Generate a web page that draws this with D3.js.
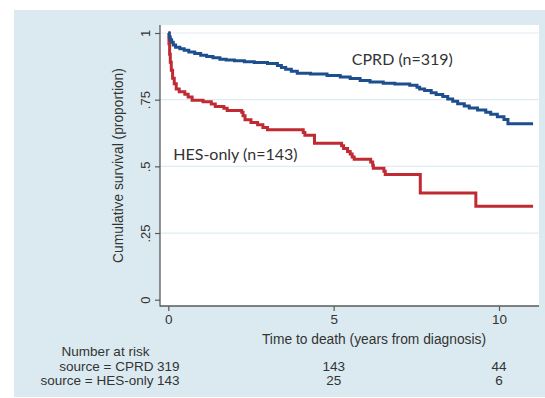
<!DOCTYPE html>
<html>
<head>
<meta charset="utf-8">
<script src="https://cdn.jsdelivr.net/npm/d3@7"></script>
<style>
  html, body { margin: 0; padding: 0; background: #ffffff; }
  svg { display: block; }
</style>
</head>
<body>
<svg id="chart" width="545" height="398"></svg>
<script>
// ---------- data ----------
const cprdTime = [0, 0.03, 0.06, 0.10, 0.15, 0.22, 0.35, 0.48, 0.62, 0.80, 0.98, 1.16, 1.35, 1.56, 1.75, 2.00, 2.30, 2.60, 3.00, 3.30, 3.42, 3.55, 3.72, 3.90, 4.30, 4.80, 5.20, 5.50, 5.80, 6.10, 6.50, 6.85, 7.30, 7.52, 7.60, 7.75, 7.95, 8.10, 8.30, 8.45, 8.60, 8.75, 8.95, 9.10, 9.35, 9.60, 9.75, 9.95, 10.15, 10.27, 11.03];
const cprdSurv = [1, 0.985, 0.975, 0.965, 0.955, 0.947, 0.941, 0.935, 0.929, 0.923, 0.917, 0.912, 0.907, 0.902, 0.899, 0.896, 0.892, 0.889, 0.886, 0.878, 0.871, 0.864, 0.857, 0.849, 0.846, 0.841, 0.835, 0.829, 0.822, 0.816, 0.812, 0.809, 0.804, 0.797, 0.790, 0.784, 0.776, 0.769, 0.762, 0.753, 0.744, 0.735, 0.726, 0.719, 0.711, 0.703, 0.695, 0.686, 0.676, 0.660, 0.660];

const hesTime = [0, 0.02, 0.04, 0.06, 0.09, 0.13, 0.18, 0.24, 0.33, 0.50, 0.60, 0.72, 1.05, 1.30, 1.42, 1.68, 1.78, 2.22, 2.26, 2.32, 2.50, 2.70, 2.86, 3.00, 4.08, 4.13, 4.42, 5.24, 5.30, 5.42, 5.50, 5.56, 5.62, 6.12, 6.18, 6.20, 6.52, 6.56, 7.62, 9.30, 11.03];
const hesSurv = [1, 0.96, 0.92, 0.89, 0.86, 0.83, 0.81, 0.79, 0.78, 0.77, 0.76, 0.748, 0.742, 0.734, 0.724, 0.718, 0.709, 0.703, 0.690, 0.675, 0.664, 0.656, 0.646, 0.637, 0.627, 0.617, 0.587, 0.577, 0.567, 0.556, 0.546, 0.535, 0.527, 0.516, 0.504, 0.493, 0.482, 0.469, 0.400, 0.350, 0.350];

const seriesNames = ["CPRD (n=319)", "HES-only (n=143)"];
const yTicks = [0, 0.25, 0.5, 0.75, 1];
const yTickLabels = ["0", ".25", ".5", ".75", "1"];
const xTicks = [0, 5, 10];
const xTickLabels = ["0", "5", "10"];
const yTitle = "Cumulative survival (proportion)";
const xTitle = "Time to death (years from diagnosis)";
const riskTitle = "Number at risk";
const riskGroups = ["source = CPRD", "source = HES-only"];
const riskCPRD = [319, 143, 44];
const riskHES = [143, 25, 6];

// ---------- layout ----------
const svg = d3.select("#chart");
const W = 545, H = 398;
const plot = { left: 160, right: 539, top: 25, bottom: 306 };
const BLUE = "#1d4f8f", RED = "#c02a32";
const TEXT = "#333333";
const AXIS = "#5a5a5a";
const FONT = "'Liberation Sans', Arial, sans-serif";

const x = d3.scaleLinear().domain([0, 10]).range([168.3, 499]);
const y = d3.scaleLinear().domain([0, 1]).range([299.7, 33]);

// background panel
svg.append("rect").attr("x", 14).attr("y", 10).attr("width", W - 14).attr("height", 387)
  .attr("fill", "#dbeaf0");
// plot region
svg.append("rect").attr("x", plot.left).attr("y", plot.top)
  .attr("width", plot.right - plot.left).attr("height", plot.bottom - plot.top)
  .attr("fill", "#ffffff");

// gridlines
svg.append("g").selectAll("line").data(yTicks.filter(d => d > 0)).join("line")
  .attr("x1", plot.left).attr("x2", plot.right)
  .attr("y1", d => y(d)).attr("y2", d => y(d))
  .attr("stroke", "#dfecf2").attr("stroke-width", 1.2);

// curves
const line = d3.line().x(d => x(d[0])).y(d => y(d[1])).curve(d3.curveStepAfter);
const series = [
  { pts: d3.zip(hesTime, hesSurv), color: RED },
  { pts: d3.zip(cprdTime, cprdSurv), color: BLUE }
];
svg.append("g").selectAll("path").data(series).join("path")
  .attr("d", d => line(d.pts))
  .attr("fill", "none").attr("stroke", d => d.color)
  .attr("stroke-width", 3).attr("stroke-linejoin", "miter");

// axes
const yAxis = d3.axisLeft(y).tickValues(yTicks).tickFormat((d, i) => yTickLabels[i]).tickSize(5).tickSizeOuter(0);
const gy = svg.append("g").attr("transform", `translate(${plot.left},0)`).call(yAxis);
gy.select(".domain").remove();
gy.selectAll(".tick line").attr("stroke", AXIS).attr("stroke-width", 1.2);
gy.selectAll(".tick text")
  .attr("transform", "rotate(-90)")
  .attr("x", 0).attr("y", -10.5).attr("dy", 0)
  .attr("text-anchor", "middle")
  .attr("fill", TEXT).style("font", `13px ${FONT}`);

const xAxis = d3.axisBottom(x).tickValues(xTicks).tickFormat((d, i) => xTickLabels[i]).tickSize(5).tickSizeOuter(0);
const gx = svg.append("g").attr("transform", `translate(0,${plot.bottom})`).call(xAxis);
gx.select(".domain").remove();
gx.selectAll(".tick line").attr("stroke", AXIS).attr("stroke-width", 1.2);
gx.selectAll(".tick text").attr("y", 18).attr("dy", 0)
  .attr("fill", TEXT).style("font", `13.5px ${FONT}`);

// axis lines
svg.append("line").attr("x1", plot.left).attr("x2", plot.left)
  .attr("y1", plot.top).attr("y2", plot.bottom + 0.6)
  .attr("stroke", AXIS).attr("stroke-width", 1.3);
svg.append("line").attr("x1", plot.left).attr("x2", plot.right)
  .attr("y1", plot.bottom).attr("y2", plot.bottom)
  .attr("stroke", AXIS).attr("stroke-width", 1.3);

// axis titles
svg.append("text").attr("transform", `translate(123,${(plot.top + plot.bottom) / 2}) rotate(-90)`)
  .attr("text-anchor", "middle").attr("fill", TEXT)
  .style("font", `13.8px ${FONT}`).text(yTitle);
svg.append("text").attr("x", 374).attr("y", 344)
  .attr("text-anchor", "middle").attr("fill", TEXT)
  .style("font", `13.8px ${FONT}`).text(xTitle);

// series labels
svg.append("text").attr("x", x(5.55)).attr("y", y(0.8785))
  .attr("fill", TEXT).style("font", `16px Lato, 'Open Sans', sans-serif`).text(seriesNames[0]);
svg.append("text").attr("x", x(0.15)).attr("y", y(0.525))
  .attr("fill", TEXT).style("font", `16px Lato, 'Open Sans', sans-serif`).text(seriesNames[1]);

// number at risk table
svg.append("text").attr("x", 105.5).attr("y", 356).attr("text-anchor", "middle")
  .attr("fill", TEXT).style("font", `13.5px ${FONT}`).text(riskTitle);
const rows = [riskCPRD, riskHES];
const rowY = [371, 385];
rows.forEach((vals, r) => {
  svg.append("text").attr("x", 153.5).attr("y", rowY[r]).attr("text-anchor", "end")
    .attr("fill", TEXT).style("font", `13.5px ${FONT}`).text(riskGroups[r]);
  svg.append("g").selectAll("text").data(vals).join("text")
    .attr("x", (d, i) => x(xTicks[i])).attr("y", rowY[r])
    .attr("text-anchor", "middle").attr("fill", TEXT)
    .style("font", `13.5px ${FONT}`).text(d => d);
});
</script>
</body>
</html>
